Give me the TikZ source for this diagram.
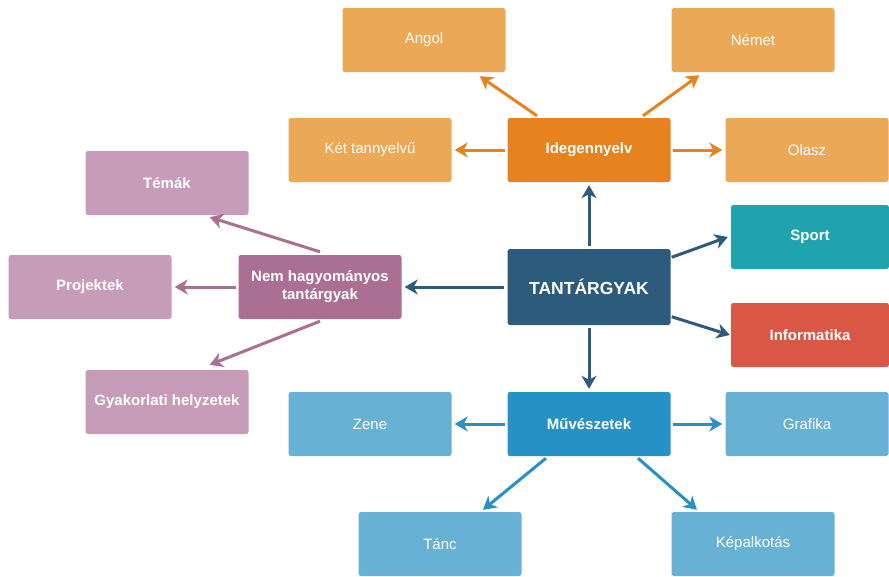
\documentclass[tikz,border=0pt]{standalone}
\usepackage{fontspec}
\setmainfont{Liberation Sans}
\usepackage{tikz}
\usetikzlibrary{arrows.meta}

\definecolor{fokek}{HTML}{2D5B7B}
\definecolor{narancs}{HTML}{E6831F}
\definecolor{narancsv}{HTML}{EBA857}
\definecolor{lila}{HTML}{AB6F94}
\definecolor{lilav}{HTML}{C69CB8}
\definecolor{kek}{HTML}{2691C4}
\definecolor{kekv}{HTML}{67B1D4}
\definecolor{turkiz}{HTML}{1FA3AE}
\definecolor{piros}{HTML}{DA5645}

\begin{document}
\begin{tikzpicture}[
		x=1pt, y=-1pt,
		every node/.style = {shape=rectangle, rounded corners=2.5pt, align=center,
			minimum width=163pt, minimum height=64pt, text=white,
			font=\fontsize{15}{18}\selectfont},
		fo/.style = {font=\fontsize{15}{18}\selectfont\bfseries},
		nyil/.style = {line width=3pt, -{Stealth[length=13pt, width=15pt, inset=4pt]}}]
		\useasboundingbox (0,0) rectangle (889,576);
		% kozep
		\node[fill=fokek, minimum height=76pt, font=\fontsize{17.5}{20}\selectfont\bfseries] (tant) at (589,287) {TANTÁRGYAK};
		% idegennyelv
		\node[fill=narancs, fo] (ideg) at (589,150) {Idegennyelv};
		\node[fill=narancsv] (angol) at (424,40) {Angol};
		\node[fill=narancsv] (nemet) at (753,40) {Német};
		\node[fill=narancsv] (ket) at (370,150) {Két tannyelvű};
		\node[fill=narancsv] (olasz) at (807,150) {Olasz};
		% sport, informatika
		\node[fill=turkiz, fo, minimum width=158pt] (sport) at (810,237) {Sport};
		\node[fill=piros, fo, minimum width=158pt] (info) at (810,335) {Informatika};
		% nem hagyomanyos
		\node[fill=lila, fo] (nemh) at (320,287) {Nem hagyományos\\tantárgyak};
		\node[fill=lilav, fo] (temak) at (167,183) {Témák};
		\node[fill=lilav, fo] (proj) at (90,287) {Projektek};
		\node[fill=lilav, fo] (gyak) at (167,402) {Gyakorlati helyzetek};
		% muveszetek
		\node[fill=kek, fo] (muv) at (589,424) {Művészetek};
		\node[fill=kekv] (zene) at (370,424) {Zene};
		\node[fill=kekv] (graf) at (807,424) {Grafika};
		\node[fill=kekv] (tanc) at (440,544) {Tánc};
		\node[fill=kekv] (kep) at (753,544) {Képalkotás};

		\begin{scope}[color=fokek]
			\draw[nyil] (tant.north) ++(0,-3) -- ([yshift=-3pt]ideg.south);
			\draw[nyil] (tant.south) ++(0,3) -- ([yshift=3pt]muv.north);
			\draw[nyil] (tant.west) ++(-3,0) -- ([xshift=3pt]nemh.east);
			\draw[nyil] ([xshift=1pt]tant.20) -- ([xshift=-3pt]sport.west);
			\draw[nyil] ([xshift=1pt]tant.-20) -- ([xshift=-1pt]info.west);
		\end{scope}
		\begin{scope}[color=narancs]
			\draw[nyil] ([shift={(-52,-2)}]ideg.north) -- ([shift={(-26,4)}]angol.south east);
			\draw[nyil] ([shift={(54,-2)}]ideg.north) -- ([shift={(28,3)}]nemet.south west);
			\draw[nyil] (ideg.west) ++(-2,0) -- ([xshift=3pt]ket.east);
			\draw[nyil] (ideg.east) ++(2,0) -- ([xshift=-3pt]olasz.west);
		\end{scope}
		\begin{scope}[color=lila]
			\draw[nyil] (nemh.north) ++(0,-3) -- ([shift={(-39,2)}]temak.south east);
			\draw[nyil] (nemh.west) ++(-2,0) -- ([xshift=3pt]proj.east);
			\draw[nyil] (nemh.south) ++(0,2) -- ([shift={(-39,-5)}]gyak.north east);
		\end{scope}
		\begin{scope}[color=kek]
			\draw[nyil] (muv.west) ++(-2,0) -- ([xshift=3pt]zene.east);
			\draw[nyil] (muv.east) ++(2,0) -- ([xshift=-3pt]graf.west);
			\draw[nyil] ([shift={(-43,2)}]muv.south) -- ([shift={(43,-2)}]tanc.north);
			\draw[nyil] ([shift={(49,2)}]muv.south) -- ([shift={(-56,-2)}]kep.north);
		\end{scope}
	\end{tikzpicture}
\end{document}
